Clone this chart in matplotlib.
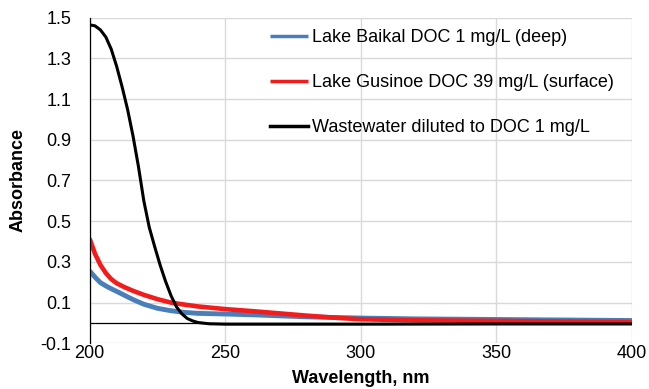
import matplotlib.pyplot as plt

plt.rcParams['font.family'] = ['Liberation Sans', 'DejaVu Sans']

# wavelength (nm) / absorbance
wl_baikal = [200, 202, 204, 206, 208, 210, 213, 216, 220, 225, 230, 235, 240, 250,
             260, 270, 280, 290, 300, 320, 350, 400]
abs_baikal = [0.256, 0.225, 0.198, 0.182, 0.168, 0.155, 0.135, 0.115, 0.092, 0.072,
              0.060, 0.052, 0.047, 0.044, 0.040, 0.035, 0.030, 0.027, 0.024, 0.020,
              0.017, 0.012]

wl_gusinoe = [200, 202, 204, 206, 208, 210, 213, 216, 220, 225, 230, 235, 240, 250,
              260, 270, 280, 290, 300, 320, 350, 400]
abs_gusinoe = [0.415, 0.340, 0.285, 0.245, 0.215, 0.195, 0.175, 0.158, 0.138, 0.117,
               0.100, 0.090, 0.081, 0.068, 0.058, 0.047, 0.036, 0.026, 0.018, 0.013,
               0.010, 0.004]

wl_waste = [200, 202, 204, 206, 208, 210, 212, 214, 216, 218, 220, 222, 224, 226,
            228, 230, 232, 234, 236, 238, 240, 244, 250, 300, 350, 400]
abs_waste = [1.465, 1.460, 1.440, 1.405, 1.345, 1.260, 1.160, 1.050, 0.920, 0.770,
             0.600, 0.470, 0.375, 0.285, 0.205, 0.135, 0.080, 0.045, 0.022, 0.010,
             0.002, -0.004, -0.006, -0.006, -0.005, -0.005]

labels = ["Lake Baikal DOC 1 mg/L (deep)",
          "Lake Gusinoe DOC 39 mg/L (surface)",
          "Wastewater diluted to DOC 1 mg/L"]

fig = plt.figure(figsize=(6.49, 3.89), dpi=100)
ax = fig.add_axes([0.138, 0.1175, 0.836, 0.837])

ax.plot(wl_baikal, abs_baikal, color='#4a7ebb', lw=3.5, label=labels[0], solid_capstyle='butt')
ax.plot(wl_gusinoe, abs_gusinoe, color='#f21c1c', lw=3.3, label=labels[1], solid_capstyle='butt')
ax.plot(wl_waste, abs_waste, color='black', lw=2.2, label=labels[2])

ax.axhline(0, color='black', lw=0.9, zorder=1)

ax.set_xlim(200, 400)
ax.set_ylim(-0.1, 1.5)
ax.set_xticks([200, 250, 300, 350, 400])
ax.set_yticks([-0.1, 0.1, 0.3, 0.5, 0.7, 0.9, 1.1, 1.3, 1.5])
ax.set_yticklabels(['-0.1', '0.1', '0.3', '0.5', '0.7', '0.9', '1.1', '1.3', '1.5'])
ax.grid(True, color='#d9d9d9', lw=1.0)
ax.set_axisbelow(True)

for s in ['top', 'right', 'bottom']:
    ax.spines[s].set_visible(False)
ax.spines['left'].set_color('black')
ax.spines['left'].set_linewidth(0.9)
ax.tick_params(length=0, labelsize=13, colors='black')
ax.tick_params(axis='y', pad=13)
ax.tick_params(axis='x', pad=1)

ax.set_xlabel("Wavelength, nm", fontsize=13, fontweight='bold', labelpad=6)
ax.set_ylabel("Absorbance", fontsize=13, fontweight='bold', labelpad=10)

leg = ax.legend(loc='upper left', bbox_to_anchor=(0.333, 0.964), frameon=False,
                fontsize=13, handlelength=2.1, handletextpad=0.2, labelspacing=1.54,
                borderpad=0, borderaxespad=0)
for h in leg.get_lines():
    h.set_linewidth(2.5)

fig.savefig("out.png", dpi=100)
